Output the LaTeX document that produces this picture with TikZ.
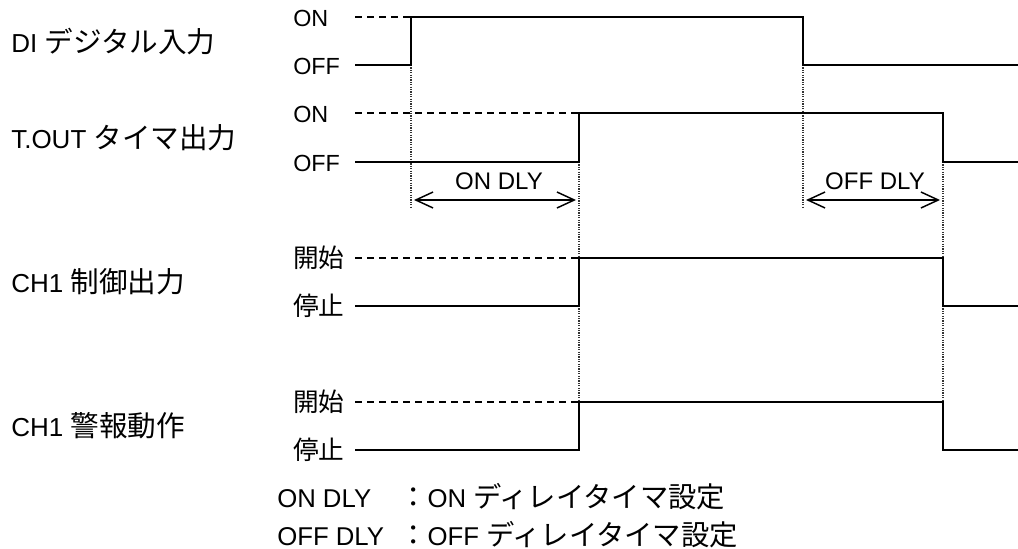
\documentclass[tikz,border=0pt]{standalone}
\usepackage{fontspec}
\setmainfont{Liberation Sans}
\newfontfamily\jpfont[Scale=1.1]{Noto Sans CJK JP}
\newcommand{\jp}[1]{{\jpfont #1}}
\usetikzlibrary{arrows.meta}

\tikzset{
  wave/.style={line width=1.7pt, line join=miter},
  guide/.style={line width=1.1pt, dash pattern=on 5.2pt off 3.8pt},
  timeline/.style={line width=0.8pt, dash pattern=on 0.9pt off 0.9pt, black!80},
  dly/.style={line width=1.1pt, {Straight Barb[length=13pt,width=12pt]}-{Straight Barb[length=13pt,width=12pt]}},
  rowlbl/.style={anchor=base west, inner sep=0pt, font=\fontsize{19.5}{24}\selectfont},
  lvl/.style={anchor=base west, inner sep=0pt, font=\fontsize{17.5}{21}\selectfont},
  dlylbl/.style={anchor=base, inner sep=0pt, font=\fontsize{18}{22}\selectfont},
  note/.style={anchor=base west, inner sep=0pt, font=\fontsize{19.3}{23}\selectfont},
}

\begin{document}
\begin{tikzpicture}[x=0.75pt, y=-0.75pt]
  \useasboundingbox (0,0) rectangle (1018,549);

  % signal names
  \node[rowlbl] (di)   at (11,53)  {DI \jp{デジタル入力}};
  \node[rowlbl] (tout) at (11,149) {T.OUT \jp{タイマ出力}};
  \node[rowlbl] (ctl)  at (11,292) {CH1 \jp{制御出力}};
  \node[rowlbl] (alm)  at (11,436) {CH1 \jp{警報動作}};

  % levels
  \foreach \n/\hi/\lo/\a/\b/\t in {dil/17/65/ON/OFF/411, toutl/113/162/ON/OFF/579,
      ctll/258/306/\jp{開始}/\jp{停止}/579, alml/402/450/\jp{開始}/\jp{停止}/579} {
    \node[lvl] (\n-on)  at (293,{\hi+9.5}) {\a};
    \node[lvl] (\n-off) at (293,{\lo+9.5}) {\b};
    \draw[guide] (355,\hi) -- (\t,\hi);
  }

  % timing marks
  \draw[timeline] (411,65) -- (411,207);
  \draw[timeline] (803,65) -- (803,207);
  \draw[timeline] (579,162) -- (579,402);
  \draw[timeline] (943,162) -- (943,402);

  % waveforms
  \draw[wave] (355,65) -- (411,65) -- (411,17) -- (803,17) -- (803,65) -- (1018,65);
  \draw[wave] (355,162) -- (579,162) -- (579,113) -- (943,113) -- (943,162) -- (1018,162);
  \draw[wave] (355,306) -- (579,306) -- (579,258) -- (943,258) -- (943,306) -- (1018,306);
  \draw[wave] (355,450) -- (579,450) -- (579,402) -- (943,402) -- (943,450) -- (1018,450);

  % delays
  \coordinate (on-a) at (414,200);
  \coordinate (on-b) at (576,200);
  \coordinate (off-a) at (806,200);
  \coordinate (off-b) at (940,200);
  \draw[dly] (on-a) -- (on-b);
  \draw[dly] (off-a) -- (off-b);
  \node[dlylbl] (ondly)  at (499,190) {ON DLY};
  \node[dlylbl] (offdly) at (875,190) {OFF DLY};

  % legend
  \node[note] (k1) at (277,507.5) {ON DLY};
  \node[note] (v1) at (399,507.5) {\jp{：}ON \jp{ディレイタイマ設定}};
  \node[note] (k2) at (277,545) {OFF DLY};
  \node[note] (v2) at (399,545) {\jp{：}OFF \jp{ディレイタイマ設定}};
\end{tikzpicture}
\end{document}
